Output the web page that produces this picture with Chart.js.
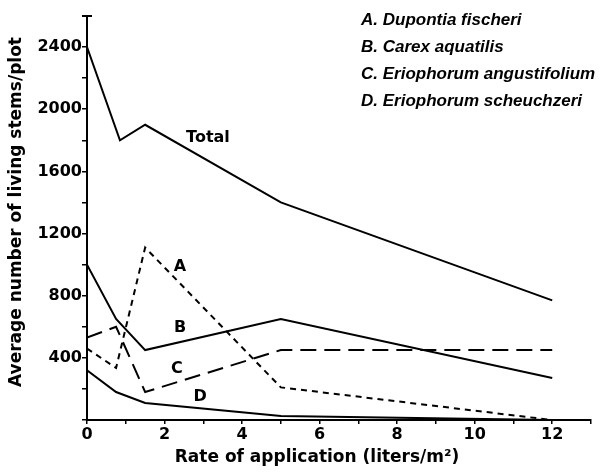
<!DOCTYPE html>
<html>
<head>
<meta charset="utf-8">
<script src="https://cdn.jsdelivr.net/npm/chart.js@4"></script>
<style>
  html, body { margin: 0; padding: 0; background: #fff; }
  canvas { display: block; }
</style>
</head>
<body>
<canvas id="stemsChart" width="601" height="476"></canvas>
<script>
// rates of application (liters/m2)
const rates = [0, 0.75, 1.5, 5, 12];
const totalRates = [0, 0.85, 1.5, 5, 12];

// average number of living stems per plot
const total = [2400, 1800, 1900, 1400, 770];
const dupontia = [460, 335, 1110, 210, 0];      // A
const carex = [1000, 650, 450, 650, 270];       // B
const eriAngust = [530, 600, 180, 450, 450];    // C
const eriScheuch = [320, 180, 110, 25, 0];      // D

const legendLines = [
  'A. Dupontia fischeri',
  'B. Carex aquatilis',
  'C. Eriophorum angustifolium',
  'D. Eriophorum scheuchzeri'
];

const toPoints = (xs, ys) => xs.map((x, i) => ({ x: x, y: ys[i] }));

const lineSet = (label, xs, ys, dash) => ({
  label: label,
  data: toPoints(xs, ys),
  borderColor: '#000',
  borderWidth: 2,
  borderDash: dash,
  pointRadius: 0,
  tension: 0,
  fill: false
});

// curve names, axis titles and species key drawn straight on the canvas
const annotate = {
  id: 'annotate',
  afterDraw(chart) {
    const ctx = chart.ctx;
    const xs = chart.scales.x, ys = chart.scales.y;
    ctx.save();
    ctx.fillStyle = '#000';
    ctx.textAlign = 'center';
    ctx.textBaseline = 'middle';
    ctx.font = 'bold 16px "DejaVu Sans"';
    const names = [['Total', 3.12, 1815], ['A', 2.4, 985], ['B', 2.4, 592], ['C', 2.32, 328], ['D', 2.92, 148]];
    names.forEach(([t, x, y]) => ctx.fillText(t, xs.getPixelForValue(x), ys.getPixelForValue(y)));

    // little cap on top of the y axis
    ctx.strokeStyle = '#000';
    ctx.lineWidth = 2;
    ctx.beginPath();
    ctx.moveTo(xs.left - 5, ys.top);
    ctx.lineTo(xs.left + 5, ys.top);
    ctx.stroke();

    // axis titles
    ctx.font = 'bold 17px "DejaVu Sans"';
    ctx.fillText('Rate of application (liters/m\u00b2)', 317, 458);
    ctx.save();
    ctx.translate(17, 212);
    ctx.rotate(-Math.PI / 2);
    ctx.fillText('Average number of living stems/plot', 0, 0);
    ctx.restore();

    // species key
    ctx.textAlign = 'left';
    ctx.font = 'italic bold 17px "Liberation Sans"';
    legendLines.forEach((t, i) => ctx.fillText(t, 361, 20 + i * 27));
    ctx.restore();
  }
};

new Chart('stemsChart', {
  type: 'line',
  data: {
    datasets: [
      lineSet('Total', totalRates, total, []),
      lineSet('A', rates, dupontia, [6, 5]),
      lineSet('B', rates, carex, []),
      lineSet('C', rates, eriAngust, [16, 8]),
      lineSet('D', rates, eriScheuch, [])
    ]
  },
  options: {
    responsive: false,
    animation: false,
    layout: { padding: { top: 16, right: 10, left: 0, bottom: 0 } },
    plugins: {
      legend: { display: false },
      tooltip: { enabled: false }
    },
    scales: {
      x: {
        type: 'linear',
        min: 0,
        max: 13,
        afterFit: (s) => { s.height = 56; },
        border: { display: true, color: '#000', width: 2 },
        grid: { drawOnChartArea: false, color: '#000', tickLength: 4, lineWidth: 1.5 },
        ticks: {
          stepSize: 1,
          autoSkip: false,
          maxRotation: 0,
          padding: 1,
          color: '#000',
          font: { family: 'DejaVu Sans', weight: 'bold', size: 16 },
          callback: (v) => (v % 2 === 0 && v <= 12 ? v : '')
        }
      },
      y: {
        min: 0,
        max: 2600,
        afterFit: (s) => { s.width = 87; },
        border: { display: true, color: '#000', width: 2 },
        grid: { drawOnChartArea: false, color: '#000', tickLength: 5, lineWidth: 1.5 },
        ticks: {
          stepSize: 200,
          autoSkip: false,
          padding: 0,
          color: '#000',
          font: { family: 'DejaVu Sans', weight: 'bold', size: 16 },
          callback: (v) => (v % 400 === 0 && v > 0 ? v : '')
        }
      }
    }
  },
  plugins: [annotate]
});
</script>
</body>
</html>
